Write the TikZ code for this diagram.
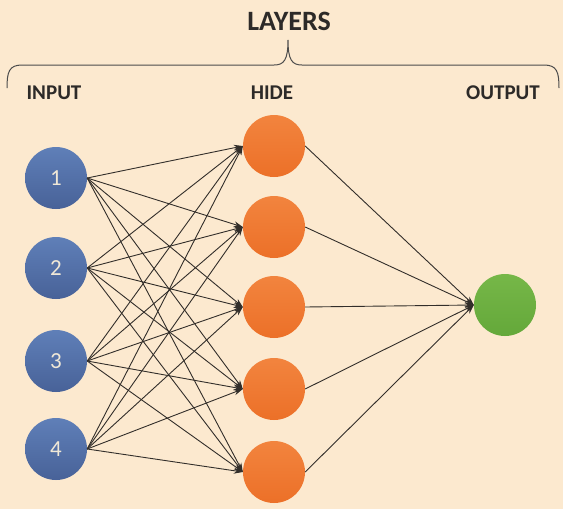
\documentclass[tikz,border=0pt]{standalone}
\usepackage{fontspec}
\setmainfont{Carlito}
\usetikzlibrary{arrows.meta}
\definecolor{bg}{RGB}{252,233,207}
\definecolor{bluetop}{RGB}{95,127,184}
\definecolor{bluebot}{RGB}{72,98,152}
\definecolor{orangetop}{RGB}{242,132,62}
\definecolor{orangebot}{RGB}{236,112,40}
\definecolor{greentop}{RGB}{118,183,72}
\definecolor{greenbot}{RGB}{100,168,58}
\definecolor{txt}{RGB}{45,42,40}
\definecolor{numtxt}{RGB}{240,232,215}
\definecolor{edge}{RGB}{50,46,42}
\begin{document}
\begin{tikzpicture}[x=1pt,y=-1pt,
  neuron/.style={circle,minimum size=62pt,inner sep=0pt},
  inp/.style={neuron,top color=bluetop,bottom color=bluebot,text=numtxt,font=\fontsize{23}{23}\selectfont},
  hid/.style={neuron,top color=orangetop,bottom color=orangebot},
  outn/.style={neuron,top color=greentop,bottom color=greenbot},
  lbl/.style={text=txt,font=\bfseries\fontsize{21}{21}\selectfont},
  conn/.style={draw=edge,line width=0.9pt,-{Stealth[length=9pt,width=6pt]}}
]
\fill[bg] (0,0) rectangle (563,509);
\useasboundingbox (0,0) rectangle (563,509);

\node[text=txt,font=\bfseries\fontsize{28}{28}\selectfont] (layers) at (289,21) {LAYERS};
\node[lbl] (lin) at (54,93) {INPUT};
\node[lbl] (lhid) at (272,93) {HIDE};
\node[lbl] (lout) at (503,93) {OUTPUT};

\draw[draw=black!70,line width=1pt]
  (7,88) .. controls (7,72) and (9,65) .. (22,65) -- (274,65)
  .. controls (284,65) and (288,60) .. (288,40)
  .. controls (288,60) and (292,65) .. (302,65) -- (544,65)
  .. controls (557,65) and (559,72) .. (559,88);

\node[inp] (i1) at (56,178) {1};
\node[inp] (i2) at (56,268) {2};
\node[inp] (i3) at (56,361) {3};
\node[inp] (i4) at (56,449) {4};

\node[hid] (h1) at (274,146) {};
\node[hid] (h2) at (274,227) {};
\node[hid] (h3) at (274,307) {};
\node[hid] (h4) at (274,389) {};
\node[hid] (h5) at (274,472) {};

\node[outn] (o) at (505,305) {};

\foreach \i in {1,...,4}{
  \foreach \h in {1,...,5}{
    \draw[conn] (i\i.east) -- (h\h.west);
  }
}
\foreach \h in {1,...,5}{
  \draw[conn] (h\h.east) -- (o.west);
}
\end{tikzpicture}
\end{document}
